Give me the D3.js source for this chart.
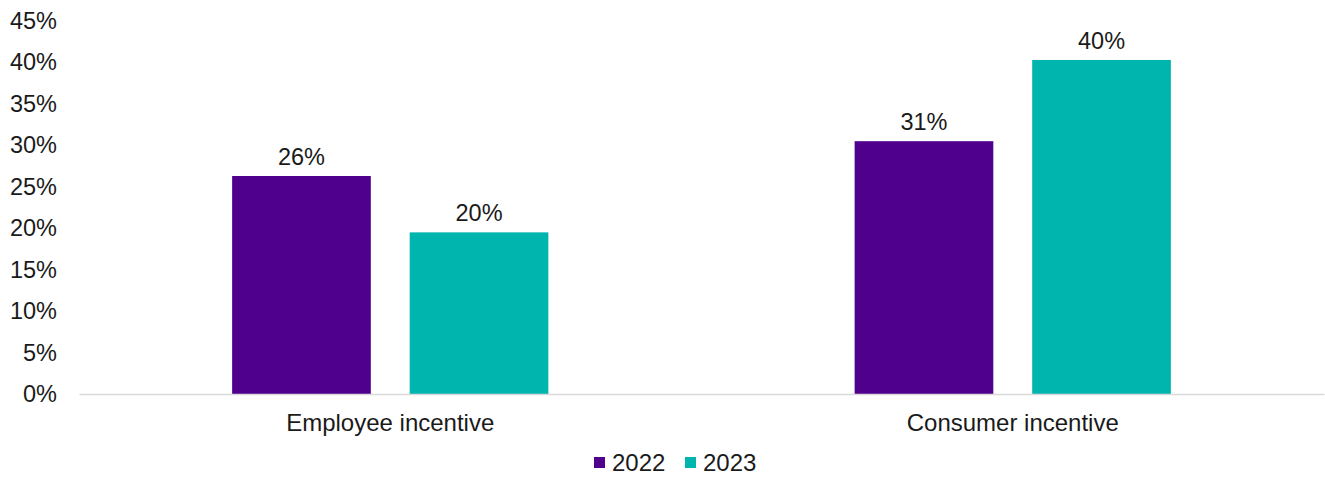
<!DOCTYPE html>
<html>
<head>
<meta charset="utf-8">
<script src="https://cdn.jsdelivr.net/npm/d3@7"></script>
<style>
  body { margin: 0; background: #fff; }
  text { font-family: "Liberation Sans", Arial, sans-serif; fill: #1a1a1a; }
</style>
</head>
<body>
<svg id="chart"></svg>
<script>
var categories = ["Employee incentive", "Consumer incentive"];
var series = ["2022", "2023"];
var values2022 = [26.3, 30.5];
var values2023 = [19.5, 40.3];
var labels2022 = ["26%", "31%"];
var labels2023 = ["20%", "40%"];
var yTicks = [0, 5, 10, 15, 20, 25, 30, 35, 40, 45];
var colors = ["#4f008c", "#00b5ad"];

var width = 1325;
var height = 477;
var margin = {top: 21, bottom: 83, left: 79, right: 1};
var fontSize = "23.5px";

var svg = d3.select("#chart")
    .attr("width", width)
    .attr("height", height);

var data = categories.map(function (c, i) {
    return {
        cat: c,
        bars: [
            {s: series[0], v: values2022[i], label: labels2022[i]},
            {s: series[1], v: values2023[i], label: labels2023[i]}
        ]
    };
});

var x0 = d3.scaleBand()
    .domain(categories)
    .range([margin.left, width - margin.right])
    .paddingInner(0.492)
    .paddingOuter(0.246);

var x1 = d3.scaleBand()
    .domain(series)
    .range([0, x0.bandwidth()])
    .paddingInner(0.219);

var y = d3.scaleLinear()
    .domain([0, 45])
    .range([height - margin.bottom, margin.top]);

var color = d3.scaleOrdinal().domain(series).range(colors);

// y axis labels, no line
var yAxis = svg.append("g")
    .attr("transform", "translate(" + (margin.left - 22) + ",0)")
    .call(d3.axisLeft(y).tickValues(yTicks).tickSize(0).tickPadding(0)
        .tickFormat(function (d) { return d + "%"; }));
yAxis.select(".domain").remove();
yAxis.selectAll("text")
    .style("font-size", fontSize)
    .attr("font-family", "Liberation Sans, Arial, sans-serif")
    .style("fill", "#1a1a1a");

// bars
var groups = svg.selectAll(".grp")
    .data(data)
    .enter().append("g")
    .attr("class", "grp")
    .attr("transform", function (d) { return "translate(" + x0(d.cat) + ",0)"; });

groups.selectAll("rect")
    .data(function (d) { return d.bars; })
    .enter().append("rect")
    .attr("x", function (d) { return x1(d.s); })
    .attr("y", function (d) { return y(d.v); })
    .attr("width", x1.bandwidth())
    .attr("height", function (d) { return y(0) - y(d.v); })
    .attr("fill", function (d) { return color(d.s); });

groups.selectAll(".lbl")
    .data(function (d) { return d.bars; })
    .enter().append("text")
    .attr("class", "lbl")
    .attr("x", function (d) { return x1(d.s) + x1.bandwidth() / 2; })
    .attr("y", function (d) { return y(d.v) - 11; })
    .attr("text-anchor", "middle")
    .style("font-size", fontSize)
    .text(function (d) { return d.label; });

// x axis baseline
var xAxis = svg.append("g")
    .attr("transform", "translate(0," + y(0) + ")")
    .call(d3.axisBottom(x0).tickSize(0).tickPadding(20));
xAxis.select(".domain")
    .attr("stroke", "#d9d9d9")
    .attr("stroke-width", 1.5);
xAxis.selectAll("text")
    .style("font-size", "24px")
    .attr("font-family", "Liberation Sans, Arial, sans-serif")
    .style("fill", "#1a1a1a");

// legend
var legendX = [594, 685];
var legend = svg.append("g");
series.forEach(function (s, i) {
    legend.append("rect")
        .attr("x", legendX[i])
        .attr("y", 457)
        .attr("width", 11)
        .attr("height", 11)
        .attr("fill", colors[i]);
    legend.append("text")
        .attr("x", legendX[i] + 18)
        .attr("y", 471)
        .style("font-size", "24px")
        .text(s);
});
</script>
</body>
</html>
